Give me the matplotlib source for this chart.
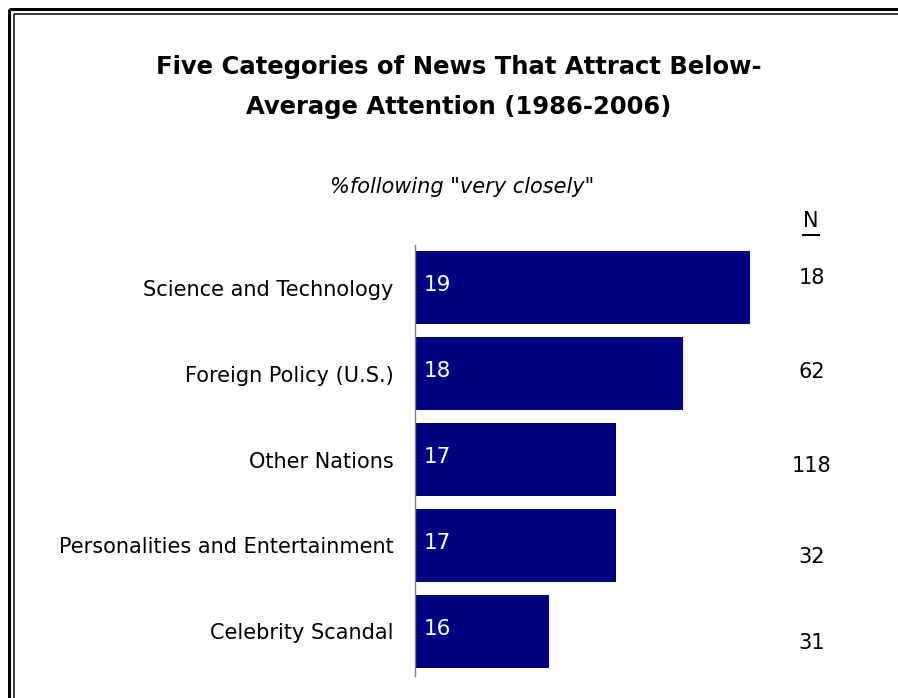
import matplotlib.pyplot as plt
import matplotlib.transforms as mtransforms
from matplotlib.lines import Line2D

# Data
categories = ["Science and Technology", "Foreign Policy (U.S.)", "Other Nations",
              "Personalities and Entertainment", "Celebrity Scandal"]
pct_very_closely = [19, 18, 17, 17, 16]
n_stories = [18, 62, 118, 32, 31]

bar_color = "#000080"
font = "DejaVu Sans"

fig = plt.figure(figsize=(8.98, 6.98), dpi=100)

# double border around the figure (right and bottom run off the edge)
W, H = 898, 698
for off, lw in [(8.5, 3.0), (13.5, 1.5)]:
    x0 = off / W
    y0 = 1 - off / H
    fig.add_artist(Line2D([x0, x0], [y0, -0.05], color="black", lw=lw * 0.72,
                          transform=fig.transFigure, solid_capstyle="butt"))
    fig.add_artist(Line2D([x0, 1.05], [y0, y0], color="black", lw=lw * 0.72,
                          transform=fig.transFigure, solid_capstyle="butt"))

# title and subtitle
fig.text(459 / W, 1 - 67 / H, "Five Categories of News That Attract Below-",
         ha="center", va="center", fontsize=17.5, fontweight="bold", family=font)
fig.text(459 / W, 1 - 107 / H, "Average Attention (1986-2006)",
         ha="center", va="center", fontsize=17.5, fontweight="bold", family=font)
fig.text(462 / W, 1 - 187 / H, "%following \"very closely\"",
         ha="center", va="center", fontsize=15, style="italic", family=font)

ax = fig.add_axes([414.7 / W, 22 / H, 402.6 / W, 431 / H])
y = list(range(len(categories)))
ax.barh(y, pct_very_closely, height=0.85, color=bar_color, left=0)
ax.set_xlim(14, 20)
ax.set_ylim(len(categories) - 0.48, -0.5)

for spine in ["top", "right", "bottom"]:
    ax.spines[spine].set_visible(False)
ax.spines["left"].set_color("#808080")
ax.spines["left"].set_linewidth(1.0)
ax.set_xticks([])
ax.set_yticks(y)
ax.set_yticklabels(categories, fontsize=15, family=font)
ax.tick_params(axis="y", length=0, pad=15)

# value labels inside the bars
for yi, v in zip(y, pct_very_closely):
    ax.text(14.14, yi - 0.03, str(v), color="white", ha="left", va="center",
            fontsize=15.5, family=font)

# N column
n_offsets = [-0.12, -0.02, 0.07, 0.13, 0.13]
trans = mtransforms.blended_transform_factory(fig.transFigure, ax.transData)
ax.text(811 / W, 1 - 221 / H, "N", transform=fig.transFigure, ha="center",
        va="center", fontsize=15, family=font)
fig.add_artist(Line2D([803 / W, 819 / W], [1 - 235 / H, 1 - 235 / H],
                      color="black", lw=1.5, transform=fig.transFigure))
for yi, n, off in zip(y, n_stories, n_offsets):
    ax.text(812 / W, yi + off, str(n), transform=trans, ha="center",
            va="center", fontsize=15, family=font, clip_on=False)

fig.savefig("out.png", dpi=100)
